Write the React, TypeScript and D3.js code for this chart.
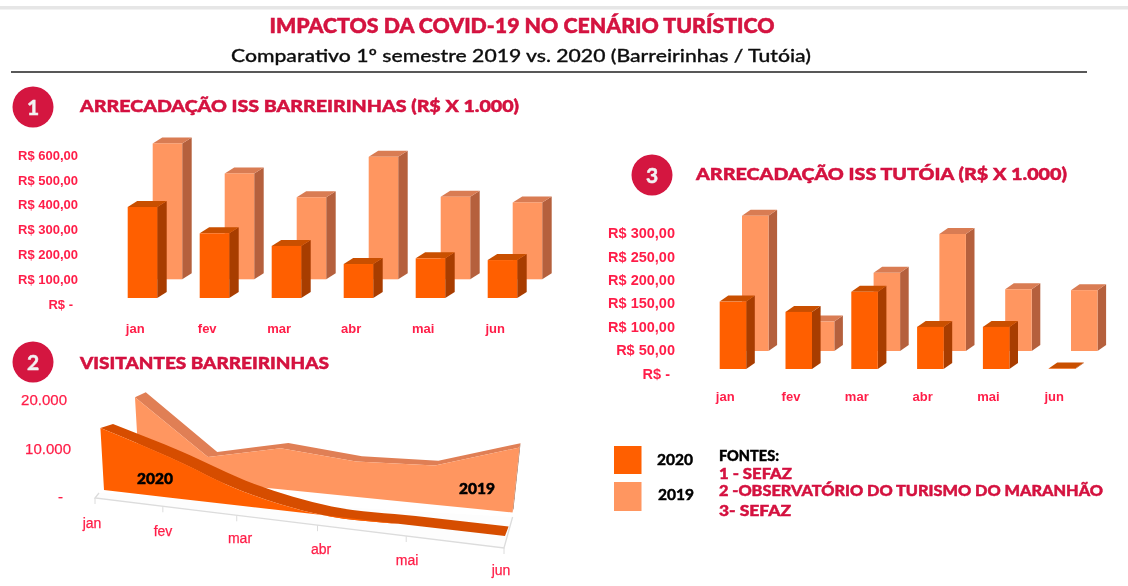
import React from "react";
import * as d3 from "d3";

const months = ["jan", "fev", "mar", "abr", "mai", "jun"];

const issBarreirinhas2020 = [367, 261, 210, 137, 160, 153];
const issBarreirinhas2019 = [548, 427, 331, 494, 333, 310];
const issBarreirinhasTicks = [0, 100, 200, 300, 400, 500, 600];

const issTutoia2020 = [144, 122, 165, 90, 90, 1];
const issTutoia2019 = [289, 63, 167, 250, 132, 130];
const issTutoiaTicks = [0, 50, 100, 150, 200, 250, 300];

const visitors2020 = [12900, 8250, 2900, 0, 0, 0];
const visitors2019 = [16250, 5100, 8200, 6900, 7500, 12300];
const visitorsTicks = [0, 10000, 20000];

const sources = ["1 - SEFAZ", "2 -OBSERVATÓRIO DO TURISMO DO MARANHÃO", "3- SEFAZ"];

const CRIMSON = "#d4123f";
const AXIS_RED = "#ff1f48";
const C20 = { front: "#ff5f00", side: "#a83c00", top: "#c94f00" };
const C19 = { front: "#ff9660", side: "#b5603c", top: "#d97b52" };
const AREA20 = "#d64e00";
const AREA19 = "#e07f55";
const HEAD = "Lato, 'Open Sans', sans-serif";
const ARIAL = "'Liberation Sans', Arial, sans-serif";

const poly = (pts: [number, number][]) => (d3.line()(pts) || "") + "Z";

function Bar3D({ x, w, base, h, dx, dy, c }: any) {
  return (
    <g>
      <path d={poly([[x + w, base], [x + w + dx, base + dy], [x + w + dx, base - h + dy], [x + w, base - h]])} fill={c.side} />
      <path d={poly([[x, base - h], [x + dx, base - h + dy], [x + w + dx, base - h + dy], [x + w, base - h]])} fill={c.top} />
      <rect x={x} y={base - h} width={w} height={h} fill={c.front} />
    </g>
  );
}

function BarChart({ s20, s19, ticks, fmt, vMax, pxPerMax, x0, step, w, offs, base20, base19, dx, dy, tickRight, tickOffset, labelX, labelY, tickSize }: any) {
  const hScale = d3.scaleLinear().domain([0, vMax]).range([0, pxPerMax]);
  const xScale = d3.scaleLinear().domain([0, 5]).range([x0, x0 + 5 * step]);
  return (
    <g>
      {ticks.map((t: number) => (
        <text key={t} x={tickRight - (t === 0 ? 5 : 0)} y={base20 - hScale(t) + tickOffset} dy="0.35em" textAnchor="end" fontFamily={ARIAL} fontSize={tickSize} fontWeight={700} fill={AXIS_RED}>{fmt(t)}</text>
      ))}
      {s19.map((v: number, i: number) => (
        <Bar3D key={"b" + i} x={xScale(i) + offs} w={w} base={base19} h={hScale(v)} dx={dx} dy={dy} c={C19} />
      ))}
      {s20.map((v: number, i: number) => (
        <Bar3D key={"a" + i} x={xScale(i)} w={w} base={base20} h={hScale(v)} dx={dx} dy={dy} c={C20} />
      ))}
      {months.map((m, i) => (
        <text key={m} x={xScale(i) + labelX} y={labelY} dy="0.35em" textAnchor="middle" fontFamily={ARIAL} fontSize={13} fontWeight={700} fill={AXIS_RED}>{m}</text>
      ))}
    </g>
  );
}

// Perspective projection of an area-chart depth plane
function makePlane(left: number, right: number, c: number, baseY0: number, baseSlope: number, baseXRef: number, dxs: number[], dys: number[]) {
  const s = (t: number) => (t / 5) / (1 + c * (1 - t / 5));
  const lean = d3.scaleLinear().domain([0, 5]).range([-0.058, 0.108]);
  const hs = d3.scaleLinear().domain([0, 10000]).range([0, 48]);
  const grow = d3.scaleLinear().domain([0, 5]).range([1, 1.1]);
  const offX = d3.scaleLinear().domain([0, 2.5, 5]).range(dxs);
  const offY = d3.scaleLinear().domain([0, 2.5, 5]).range(dys);
  const baseX = (t: number) => left + (right - left) * s(t);
  const baseY = (t: number) => baseY0 + baseSlope * (baseX(t) - baseXRef);
  const top = (t: number, v: number): [number, number] => {
    const h = hs(v) * grow(t);
    return [baseX(t) + h * lean(t), baseY(t) - h];
  };
  const back = (p: [number, number], t: number): [number, number] => [p[0] + offX(t), p[1] + offY(t)];
  return { baseX, baseY, top, back };
}

function AreaSeries({ plane, values, front, ridge, side, curve }: any) {
  const idx = values.map((_: number, i: number) => i);
  const tops: [number, number][] = idx.map((i: number) => plane.top(i, values[i]));
  const backs: [number, number][] = idx.map((i: number) => plane.back(tops[i], i));
  const bases: [number, number][] = idx.map((i: number) => [plane.baseX(i), plane.baseY(i)]);
  const last = idx.length - 1;
  const gen = d3.line().curve(curve);
  const topPath = gen(tops) || "";
  const backRev = (gen(backs.slice().reverse()) || "").replace(/^M/, "L");
  const baseRev = (d3.line()(bases.slice().reverse()) || "").replace(/^M/, "L");
  return (
    <g>
      <path d={poly([tops[last], backs[last], plane.back(bases[last], last), bases[last]])} fill={side} />
      <path d={topPath + backRev + "Z"} fill={ridge} />
      <path d={topPath + baseRev + "Z"} fill={front} />
    </g>
  );
}

function VisitorsChart() {
  const plane19 = makePlane(139.5, 512.5, 0.1, 490, 0.1, 288, [10.8, 7, 1], [-5, -5.5, -4.3]);
  const plane20 = makePlane(104, 505, 0.257, 490, 0.115, 104, [12.6, 11, 3.6], [-4, -8.5, -9.5]);
  const floorX = (t: number) => 95 + 409 * ((t / 5) / (1 + 0.257 * (1 - t / 5)));
  const floorY = (t: number) => 498 + (floorX(t) - 95) * (50 / 409);
  const tickY = d3.scaleLinear().domain([0, 20000]).range([497, 400]);
  const fmt = (v: number) => (v === 0 ? "-" : d3.format(",")(v).replace(",", "."));
  const labelPosX = [92, 163, 240, 321, 407, 501];
  const labelPosY = [523, 531, 538, 549, 560, 570];
  return (
    <g>
      {visitorsTicks.map((t) => (
        <text key={t} x={t === 0 ? 63 : t === 10000 ? 71 : 67} y={tickY(t)} dy="0.35em" textAnchor="end" fontFamily={ARIAL} fontSize={15} fill={AXIS_RED} stroke={AXIS_RED} strokeWidth={0.25}>{fmt(t)}</text>
      ))}
      <path d={poly([[95, 498], [99, 493], [512.6, 517], [504, 548]])} fill="#fdfdfd" />
      <path d={(d3.line()([[99, 493], [95, 498], [504, 548], [512.6, 517]]) || "")} fill="none" stroke="#dcdcdc" strokeWidth={1.3} />
      {months.map((m, i) => (
        <path key={m} d={d3.line()([[floorX(i), floorY(i)], [floorX(i), floorY(i) + 6]]) || ""} stroke="#dcdcdc" strokeWidth={1} />
      ))}
      <AreaSeries plane={plane19} values={visitors2019} front={C19.front} ridge={AREA19} side="#8f5030" curve={d3.curveLinear} />
      <AreaSeries plane={plane20} values={visitors2020} front={C20.front} ridge={AREA20} side={AREA20} curve={d3.curveMonotoneX} />
      <text x={155} y={479} dy="0.35em" textAnchor="middle" fontFamily={HEAD} fontSize={15.5} fontWeight={900} fill="#000" stroke="#000" strokeWidth={0.5}>2020</text>
      <text x={477} y={489} dy="0.35em" textAnchor="middle" fontFamily={HEAD} fontSize={15.5} fontWeight={900} fill="#000" stroke="#000" strokeWidth={0.5}>2019</text>
      {months.map((m, i) => (
        <text key={m} x={labelPosX[i]} y={labelPosY[i]} dy="0.35em" textAnchor="middle" fontFamily={ARIAL} fontSize={14} fill={AXIS_RED} stroke={AXIS_RED} strokeWidth={0.25}>{m}</text>
      ))}
    </g>
  );
}

function Badge({ cx, cy, n }: any) {
  return (
    <g>
      <circle cx={cx} cy={cy} r={20.5} fill={CRIMSON} />
      <text x={cx} y={cy} dy="0.36em" textAnchor="middle" fontFamily={HEAD} fontSize={21} fontWeight={700} fill="#f2f2f2" stroke="#f2f2f2" strokeWidth={0.5}>{n}</text>
    </g>
  );
}

const heading = (x: number, y: number, txt: string, len: number) => (
  <text x={x} y={y} dy="0.35em" fontFamily={HEAD} fontSize={17.5} fontWeight={900} fill={CRIMSON} stroke={CRIMSON} strokeWidth={0.5} textLength={len} lengthAdjust="spacingAndGlyphs">{txt}</text>
);

export default function App() {
  const fmtA = (v: number) => (v === 0 ? "R$ -" : `R$ ${v},00`);
  return (
    <svg width={1128} height={586} style={{ position: "absolute", left: 0, top: 0, background: "#fff" }}>
      <defs>
        <filter id="soft" x="0" y="0" width="100%" height="100%">
          <feGaussianBlur stdDeviation="0.5" />
        </filter>
      </defs>
      <g filter="url(#soft)">
        <rect x={0} y={0} width={1128} height={586} fill="#fff" />
        <rect x={0} y={6} width={1128} height={3.5} fill="#e6e6e6" />
        <text x={522} y={26} dy="0.35em" textAnchor="middle" fontFamily={HEAD} fontSize={20} fontWeight={900} fill={CRIMSON} stroke={CRIMSON} strokeWidth={0.5} textLength={505} lengthAdjust="spacingAndGlyphs">IMPACTOS DA COVID-19 NO CENÁRIO TURÍSTICO</text>
        <text x={521} y={56} dy="0.35em" textAnchor="middle" fontFamily={HEAD} fontSize={18} fontWeight={500} fill="#111" stroke="#111" strokeWidth={0.3} textLength={580} lengthAdjust="spacingAndGlyphs">Comparativo 1º semestre 2019 vs. 2020 (Barreirinhas / Tutóia)</text>
        <line x1={11} x2={1087} y1={72} y2={72} stroke="#222" strokeWidth={1.7} />

        <Badge cx={33} cy={107} n="1" />
        {heading(80, 106, "ARRECADAÇÃO ISS BARREIRINHAS (R$ X 1.000)", 439)}
        <BarChart s20={issBarreirinhas2020} s19={issBarreirinhas2019} ticks={issBarreirinhasTicks} fmt={fmtA} vMax={600} pxPerMax={148.8} x0={127.7} step={72} w={29.5} offs={25} base20={298} base19={279.3} dx={9.5} dy={-6} tickRight={78} tickOffset={6} labelX={7.5} labelY={328} tickSize={13} />

        <Badge cx={33} cy={362} n="2" />
        {heading(80, 363, "VISITANTES BARREIRINHAS", 249)}
        <VisitorsChart />

        <Badge cx={652} cy={175} n="3" />
        {heading(696, 174, "ARRECADAÇÃO ISS TUTÓIA (R$ X 1.000)", 371)}
        <BarChart s20={issTutoia2020} s19={issTutoia2019} ticks={issTutoiaTicks} fmt={fmtA} vMax={300} pxPerMax={140.4} x0={719.7} step={65.8} w={26.5} offs={22.3} base20={369} base19={351} dx={8.6} dy={-6} tickRight={675} tickOffset={4.5} labelX={5.5} labelY={396} tickSize={14.5} />

        <rect x={614} y={446} width={27.5} height={28} fill={C20.front} />
        <rect x={614} y={482} width={27.5} height={29} fill={C19.front} />
        <text x={675} y={460} dy="0.35em" textAnchor="middle" fontFamily={HEAD} fontSize={15.5} fontWeight={700} fill="#000" stroke="#000" strokeWidth={0.5}>2020</text>
        <text x={676} y={495} dy="0.35em" textAnchor="middle" fontFamily={HEAD} fontSize={15.5} fontWeight={700} fill="#000" stroke="#000" strokeWidth={0.5}>2019</text>
        <text x={719} y={456} dy="0.35em" fontFamily={HEAD} fontSize={14.5} fontWeight={900} fill="#000" stroke="#000" strokeWidth={0.4}>FONTES:</text>
        {sources.map((s, i) => (
          <text key={s} x={719} y={[474, 490.7, 510.7][i]} dy="0.35em" fontFamily={HEAD} fontSize={14.5} fontWeight={900} fill={CRIMSON} stroke={CRIMSON} strokeWidth={0.45} textLength={[73, 384, 72][i]} lengthAdjust="spacingAndGlyphs">{s}</text>
        ))}
      </g>
    </svg>
  );
}
